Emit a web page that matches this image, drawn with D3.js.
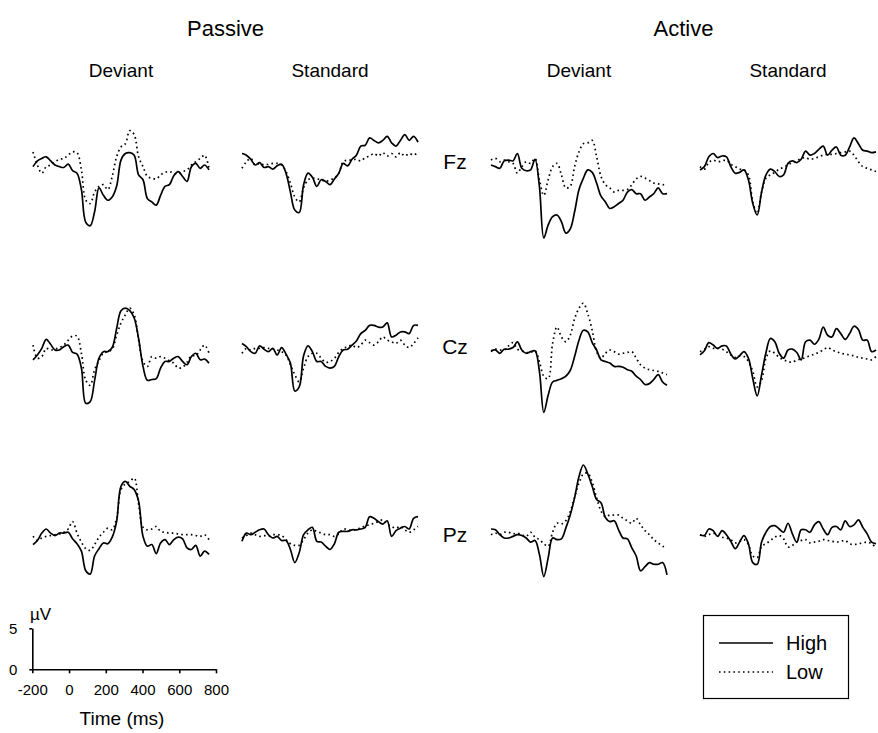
<!DOCTYPE html>
<html>
<head>
<meta charset="utf-8">
<script src="https://cdn.jsdelivr.net/npm/d3@7"></script>
<style>
  body { margin: 0; background: #fff; }
  text { font-family: "Liberation Sans", Arial, sans-serif; fill: #000; }
</style>
</head>
<body>
<script>
// Sample times (ms)
const times = [-200,-175,-150,-125,-100,-75,-50,-25,0,25,50,75,100,125,150,175,200,225,250,275,300,325,350,375,400,425,450,475,500,525,550,575,600,625,650,675,700,725,750,775,800]

const conditions = ['Passive', 'Active']
const stimuli = ['Deviant', 'Standard']
const electrodes = ['Fz', 'Cz', 'Pz']
const groups = ['High', 'Low']

// Amplitudes (µV), one array per electrode / condition / stimulus / group
const fzPassiveDeviantHigh = [-0.2,0.5,0.8,1.0,0.5,0,-0.2,-0.3,0.1,-0.7,-1.0,-3.0,-7.0,-7.4,-5.7,-2.8,-3.7,-4.3,-3.9,-2.6,0.6,1.4,1.5,1.2,-1.2,-1.8,-4.1,-4.5,-4.9,-3.7,-2.6,-2.4,-1.3,-0.8,-1.4,-2.0,-0.2,0.2,-0.4,0,-0.6]
const fzPassiveDeviantLow = [1.6,0,-1.0,-0.2,0,0.4,0.7,0.8,1.2,1.6,1.5,-0.6,-4.3,-4.7,-3.3,-2.6,-2.4,-3.0,-1.4,1.0,2.2,2.6,4.2,3.7,1.0,-0.2,-1.4,-1.6,-1.7,-1.2,-0.9,-0.8,-1.0,-1.1,-0.8,-0.6,0,0.4,0.8,1.2,-0.4]
const fzPassiveStandardHigh = [1.4,1.2,0.7,0,0.3,-0.3,-0.2,-0.5,-0.1,0.1,-1.0,-3.3,-5.5,-5.8,-2.4,-1.0,-1.5,-2.6,-1.8,-2.0,-2.4,-1.7,-1.0,0.2,-0.1,0.7,1.2,2.3,2.4,3.3,3.0,2.7,3.0,3.5,2.7,2.3,3.0,3.7,3.0,3.5,2.8]
const fzPassiveStandardLow = [-0.4,0.4,0.8,0,0.2,0,0.1,0.2,0.2,0,-0.8,-2.2,-3.9,-4.5,-2.8,-1.8,-1.6,-1.7,-1.8,-2.0,-1.8,-1.6,-1.0,0.4,0.6,0.6,0.7,0.5,0.9,1.1,1.4,1.1,1.5,1.1,1.4,1.0,1.5,1.1,1.4,1.2,1.6]
const fzActiveDeviantHigh = [0,-0.2,-0.4,0.5,0.6,0.5,1.4,-0.4,-0.7,-0.6,0.7,-2.6,-8.9,-7.3,-6.3,-6.1,-6.9,-8.3,-7.8,-5.7,-3.0,-1.6,-0.6,-0.9,-2.2,-3.8,-4.5,-5.3,-5.1,-4.7,-4.3,-3.3,-3.0,-3.5,-3.5,-4.3,-3.9,-3.5,-2.8,-3.5,-3.5]
const fzActiveDeviantLow = [0.6,0.8,0.4,0.6,0.4,0.2,-1.0,-0.2,0.4,0.2,0.8,-1.8,-3.7,-1.8,-0.2,0.2,-1.2,-2.8,-2.6,-0.2,1.6,2.6,2.7,3.0,1.0,-1.4,-2.4,-2.8,-3.3,-3.1,-3.1,-3.0,-2.4,-1.7,-1.4,-1.6,-1.9,-2.2,-2.3,-2.4,-2.4]
const fzActiveStandardHigh = [-0.6,-0.2,1.0,1.4,0.9,1.1,1.0,-0.2,-1.0,-0.9,-0.6,-1.8,-4.7,-6.1,-3.3,-1.2,-0.5,-0.8,-1.4,-1.2,0.2,0.5,0.3,0.7,1.7,1.2,1.4,1.9,2.3,1.2,1.8,2.2,1.2,1.2,2.2,3.3,2.6,1.8,1.7,1.5,1.6]
const fzActiveStandardLow = [-0.2,-0.5,0.3,0.6,0.4,0.5,0.6,0.1,-0.2,-0.5,-0.6,-1.2,-4.5,-5.9,-3.3,-1.6,-1.2,-0.9,-0.5,-0.3,0,0.3,0.5,0.8,0.9,0.7,0.8,1.0,1.2,1.3,1.3,1.4,1.5,1.6,1.7,1.2,0.4,-0.2,-0.4,-0.6,-0.8]

const czPassiveDeviantHigh = [-1.2,-0.6,0.2,1.3,0.7,0,0,0.4,0.6,-0.3,-0.5,-2.2,-6.5,-6.3,-3.7,-1.0,-0.2,-0.2,0.3,2.6,4.8,5.1,4.8,3.9,1.4,-2.0,-3.7,-3.6,-3.5,-2.2,-1.4,-1.4,-1.0,-0.8,-1.4,-1.8,-0.8,-0.4,-1.2,-1.1,-1.6]
const czPassiveDeviantLow = [0.6,-1.0,-0.8,0.2,0,0.1,0.3,0.6,1.2,1.7,1.7,-0.4,-3.7,-4.3,-2.4,-1.3,-0.4,-0.2,0.1,1.8,3.3,4.3,5.1,4.3,1.2,-1.4,-2.0,-0.8,-1.0,-0.8,-1.0,-1.3,-1.6,-2.2,-2.1,-1.5,-0.7,-0.7,0,0.6,-0.4]
const czPassiveStandardHigh = [0.8,0.4,-0.2,-0.4,0.5,0.1,-0.2,0.2,-0.6,0.3,-0.5,-1.6,-5.0,-4.5,-0.7,0.5,-0.2,-1.4,-1.4,-2.0,-2.2,-2.0,-0.8,0,0.1,0.6,1.1,2.0,2.4,3.0,3.0,2.8,2.8,3.3,1.6,1.8,2.2,2.2,2.0,3.0,3.0]
const czPassiveStandardLow = [-0.4,0.2,0,0.2,0.2,0.3,0.2,0.1,0,-0.2,-0.6,-1.8,-3.0,-3.9,-2.2,-0.8,-0.4,-0.4,-1.0,-1.5,-1.4,-1.0,-0.3,0.2,0.4,0.6,0.3,0.6,1.2,0.9,0.6,1.0,1.6,1.2,1.0,0.8,1.2,0.6,0.3,0.8,1.5]
const czActiveDeviantHigh = [-0.1,0,-0.4,0.1,0.1,0.3,1.0,0,-0.4,-0.2,-0.1,-2.6,-7.6,-5.5,-3.9,-3.7,-3.5,-3.2,-2.5,-0.8,1.2,2.4,2.2,0.9,0,-1.2,-1.4,-1.6,-2.0,-2.0,-2.1,-2.4,-2.6,-3.2,-3.6,-4.2,-4.1,-3.6,-3.0,-3.9,-4.3]
const czActiveDeviantLow = [-0.2,0.1,0,0,0.5,0.9,0.1,-0.1,-0.3,-0.3,-0.1,-1.4,-3.2,-3.5,0.8,2.8,1.6,1.0,1.8,3.8,5.1,5.7,4.4,2.4,-0.2,-1.0,-0.4,0,-0.2,-0.5,-0.4,-0.3,-0.2,-1.0,-1.8,-2.2,-2.4,-2.5,-2.6,-2.8,-3.0]
const czActiveStandardHigh = [-0.6,-0.1,0.9,0.6,0.2,0.5,0.5,-0.5,-1.1,-0.7,-0.2,-1.0,-3.5,-5.6,-3.0,-0.3,1.4,1.0,-0.4,-1.0,0,0.1,-0.3,-1.2,1.0,1.2,0.7,1.3,2.8,1.8,1.6,2.6,2.0,1.3,2.0,2.9,2.5,1.2,1.2,-0.2,0]
const czActiveStandardLow = [-0.2,0.1,0.4,0.2,0.2,0.1,-0.2,-0.6,-0.9,-0.7,-0.8,-1.4,-2.6,-4.5,-3.7,-1.0,-0.1,-0.4,-0.9,-1.2,-1.4,-1.5,-1.2,-1.1,-0.9,-0.7,-0.5,-0.3,0,0.3,0,-0.2,-0.4,-0.5,-0.6,-0.7,-0.9,-1.0,-1.1,-1.2,-0.8]

const pzPassiveDeviantHigh = [-0.8,-0.3,0.6,1.1,0.6,0.3,0.6,0.6,0.7,-0.1,-0.7,-1.6,-4.0,-4.4,-2.2,-1.3,-0.6,-0.7,0.1,2.0,6.3,6.9,6.3,5.9,4.5,0.2,-1.0,-0.8,-1.9,-0.6,-0.2,-0.8,-0.2,0.1,-0.1,-1.2,-1.4,-0.9,-2.2,-1.6,-2.0]
const pzPassiveDeviantLow = [0.2,-0.3,0,0.2,0.3,0.4,0.5,0.7,1.1,2.0,0.6,-0.5,-1.3,-1.5,-0.8,0.1,0.7,1.2,1.0,2.4,5.9,6.6,6.9,7.3,4.1,1.3,1.0,1.1,1.4,0.8,0.7,0.6,0.6,0.5,0.4,0.4,0.4,0.3,0.2,0.4,-0.2]
const pzPassiveStandardHigh = [-0.4,0.6,0.4,0.7,1.0,1.1,0.4,0,0.2,-0.3,-0.3,-1.4,-3.0,-1.8,0.4,1.0,1.3,-0.4,-0.5,-1.0,-1.4,-0.7,0.7,0.8,0.8,1.0,1.0,1.1,1.3,2.6,2.4,2.0,1.7,2.1,0.2,0.9,1.2,1.4,1.1,2.4,2.6]
const pzPassiveStandardLow = [0,0.3,0.6,0.4,0.2,0.3,0.2,0.4,0.4,0.3,-0.2,-0.7,-0.9,-0.9,-0.2,0.6,1.0,0.8,0.6,0.4,0.4,0.2,0.5,1.1,1.0,0.9,1.1,1.2,1.5,1.6,1.8,2.0,2.2,1.7,1.4,1.2,1.4,1.0,0.7,1.0,1.4]
const pzActiveDeviantHigh = [1.1,1.0,0.4,0,0,0.2,0.4,0.3,0,-0.5,-0.3,-2.0,-4.7,-2.4,0,-0.2,-0.1,1.2,2.8,4.9,7.5,8.9,7.8,6.3,4.7,4.3,2.5,2.0,2.1,1.0,0,-0.1,-1.2,-2.2,-4.0,-3.5,-3.0,-3.2,-3.2,-3.0,-4.5]
const pzActiveDeviantLow = [0.4,0.6,0.4,0.7,0.7,0.5,0.6,0.4,0.2,0.7,0.1,-0.2,-0.7,-1.0,0.7,1.8,1.7,2.1,3.2,5.0,6.7,7.8,7.9,6.8,4.9,3.3,2.6,2.8,2.8,2.8,2.4,2.1,1.8,2.4,1.6,0.9,0.4,-0.2,-0.6,-1.0,-1.2]
const pzActiveStandardHigh = [0.4,0.3,1.1,0.9,0.2,0.9,0.4,-0.4,-1.3,-0.5,0.3,-0.7,-3.0,-3.2,-0.5,0.7,1.4,1.5,1.1,0.7,1.8,0.5,-0.5,1.0,1.0,0.7,1.6,2.0,1.1,0.4,1.3,1.4,1.0,2.1,1.4,1.6,2.2,1.3,0.5,-0.5,-0.7]
const pzActiveStandardLow = [0.4,0.2,0.4,0.6,0.3,0.1,0,-0.2,-0.6,-0.4,-0.2,-0.8,-2.2,-2.4,-1.0,-0.7,-0.3,0.1,0.3,-0.1,-1.1,-0.9,-0.5,-0.3,-0.2,-0.6,-0.5,-0.4,-0.2,-0.3,-0.4,-0.5,-0.4,-0.3,-0.7,-0.8,-0.7,-0.6,-0.5,-0.7,-1.2]

// Scale bar ticks
const timeTicks = [-200, 0, 200, 400, 600, 800]
const voltTicks = [0, 5]

const waves = {
  Fz: { Passive: { Deviant: [fzPassiveDeviantHigh, fzPassiveDeviantLow], Standard: [fzPassiveStandardHigh, fzPassiveStandardLow] },
        Active: { Deviant: [fzActiveDeviantHigh, fzActiveDeviantLow], Standard: [fzActiveStandardHigh, fzActiveStandardLow] } },
  Cz: { Passive: { Deviant: [czPassiveDeviantHigh, czPassiveDeviantLow], Standard: [czPassiveStandardHigh, czPassiveStandardLow] },
        Active: { Deviant: [czActiveDeviantHigh, czActiveDeviantLow], Standard: [czActiveStandardHigh, czActiveStandardLow] } },
  Pz: { Passive: { Deviant: [pzPassiveDeviantHigh, pzPassiveDeviantLow], Standard: [pzPassiveStandardHigh, pzPassiveStandardLow] },
        Active: { Deviant: [pzActiveDeviantHigh, pzActiveDeviantLow], Standard: [pzActiveStandardHigh, pzActiveStandardLow] } }
}

const width = 878
const height = 733
const font = '"Liberation Sans", Arial, sans-serif'

const svg = d3.select('body').append('svg')
  .attr('width', width)
  .attr('height', height)

// Layout
const panelW = 176
const colX = [33, 242, 491, 700]
const rowY = [165, 350, 538]
const pxPerUV = 8.2

const x = d3.scaleLinear().domain([-200, 800]).range([0, panelW])
const y = d3.scaleLinear().domain([0, 10]).range([0, -10 * pxPerUV])

const line = d3.line()
  .x((d, i) => x(times[i]))
  .y(d => y(d))
  .curve(d3.curveCatmullRom.alpha(0.5))

const styles = {
  High: { dash: null, width: 1.7 },
  Low: { dash: '1.6 3.2', width: 1.7 }
}

electrodes.forEach((el, r) => {
  conditions.forEach((cond, c) => {
    stimuli.forEach((stim, s) => {
      const col = c * 2 + s
      const g = svg.append('g')
        .attr('transform', `translate(${colX[col]}, ${rowY[r]})`)
      // draw Low first so High sits on top
      groups.slice().reverse().forEach(grp => {
        const gi = groups.indexOf(grp)
        g.append('path')
          .datum(waves[el][cond][stim][gi])
          .attr('d', line)
          .attr('fill', 'none')
          .attr('stroke', '#000')
          .attr('stroke-width', styles[grp].width)
          .attr('stroke-dasharray', styles[grp].dash)
          .attr('stroke-linejoin', 'round')
      })
    })
  })
  // electrode label
  svg.append('text')
    .attr('x', 455)
    .attr('y', rowY[r] - 4)
    .attr('text-anchor', 'middle')
    .attr('dominant-baseline', 'central')
    .attr('font-size', 21)
    .text(el)
})

// Column headers
conditions.forEach((cond, c) => {
  const cx = (colX[c * 2] + colX[c * 2 + 1] + panelW) / 2
  svg.append('text')
    .attr('x', cx)
    .attr('y', 28)
    .attr('text-anchor', 'middle')
    .attr('dominant-baseline', 'central')
    .attr('font-size', 22)
    .text(cond)
  stimuli.forEach((stim, s) => {
    svg.append('text')
      .attr('x', colX[c * 2 + s] + panelW / 2)
      .attr('y', 70)
      .attr('text-anchor', 'middle')
      .attr('dominant-baseline', 'central')
      .attr('font-size', 19)
      .text(stim)
  })
})

// Scale bar
const sx = d3.scaleLinear().domain([-200, 800]).range([32.3, 216])
const sy = d3.scaleLinear().domain([0, 5]).range([669.3, 628.3])
const plain = d => String(d)

const xAxis = svg.append('g')
  .attr('transform', 'translate(0, 669.3)')
  .call(d3.axisBottom(sx).tickValues(timeTicks).tickFormat(plain).tickSize(4).tickSizeOuter(0).tickPadding(11))
xAxis.selectAll('text').attr('font-family', font).attr('font-size', 15).attr('fill', '#000')

const yAxis = svg.append('g')
  .attr('transform', 'translate(32.3, 0)')
  .call(d3.axisLeft(sy).tickValues(voltTicks).tickFormat(plain).tickSize(3).tickSizeOuter(0).tickPadding(12))
yAxis.selectAll('text').attr('font-family', font).attr('font-size', 15).attr('fill', '#000')

svg.selectAll('.domain, .tick line')
  .attr('stroke', '#000')
  .attr('stroke-width', 1.6)

svg.append('text')
  .attr('x', 30)
  .attr('y', 614)
  .attr('dominant-baseline', 'central')
  .attr('font-size', 17)
  .text('\u00B5V')

svg.append('text')
  .attr('x', 122)
  .attr('y', 718)
  .attr('text-anchor', 'middle')
  .attr('dominant-baseline', 'central')
  .attr('font-size', 19)
  .text('Time (ms)')

// Legend
const legend = svg.append('g')
legend.append('rect')
  .attr('x', 703.5)
  .attr('y', 615.5)
  .attr('width', 145)
  .attr('height', 83)
  .attr('fill', '#fff')
  .attr('stroke', '#000')
  .attr('stroke-width', 1.2)

groups.forEach((grp, i) => {
  const ly = 643 + i * 29
  legend.append('line')
    .attr('x1', 719)
    .attr('x2', 773)
    .attr('y1', ly)
    .attr('y2', ly)
    .attr('stroke', '#000')
    .attr('stroke-width', styles[grp].width)
    .attr('stroke-dasharray', styles[grp].dash)
  legend.append('text')
    .attr('x', 786)
    .attr('y', ly)
    .attr('dominant-baseline', 'central')
    .attr('font-size', 20)
    .text(grp)
})
</script>
</body>
</html>
